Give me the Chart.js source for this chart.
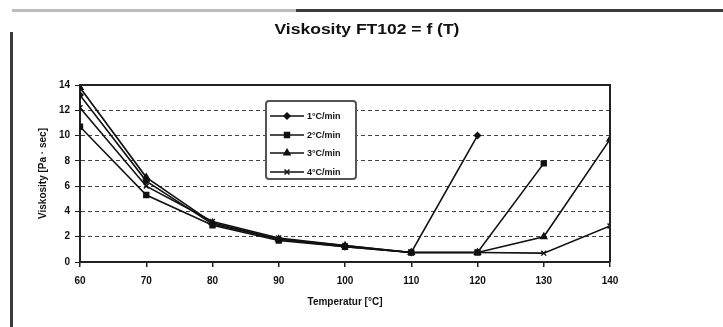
<!DOCTYPE html>
<html>
<head>
<meta charset="utf-8">
<script src="https://cdn.jsdelivr.net/npm/chart.js@4.4.0/dist/chart.umd.min.js"></script>
<style>
    body { margin: 0; background: #fff; }
    #wrap { position: relative; width: 723px; height: 327px; overflow: hidden; font-family: "Liberation Sans", Arial, sans-serif; }
    #chart { position: absolute; left: 0; top: 0; }
    #topline { position: absolute; left: 12px; top: 9px; width: 711px; height: 3px; background: linear-gradient(to right, #bdbdbd 0, #bdbdbd 40%, #3a3a3a 40%, #3a3a3a 100%); }
    #leftline { position: absolute; left: 10px; top: 32px; width: 3px; height: 295px; background: #3a3a3a; }
    #title { position: absolute; left: 0; top: 21px; width: 723px; text-align: center; font-weight: bold; font-size: 14px; color: #111; }
    #title span { display: inline-block; transform: scaleX(1.25); margin-left: 10px; }
    #legend { position: absolute; left: 265px; top: 100px; width: 92px; height: 80px; border: 2px solid #555; border-radius: 4px; background: #fff; padding-top: 5px; box-sizing: border-box; }
    .row { display: flex; align-items: center; height: 18.5px; }
    .row canvas { margin-left: 2px; }
    .row span { font-size: 9px; font-weight: bold; color: #111; margin-left: 2px; }
</style>
</head>
<body>
<div id="wrap">
    <canvas id="chart" width="723" height="327"></canvas>
    <div id="topline"></div>
    <div id="leftline"></div>
    <div id="title"><span>Viskosity FT102 = f (T)</span></div>
    <div id="legend"></div>
</div>
<script>
// Données
const temperatures = [60, 70, 80, 90, 100, 110, 120, 130, 140];
const rate1 = [13.2, 6.4, 3.0, 1.8, 1.2, 0.75, 10.0, null, null];
const rate2 = [10.7, 5.3, 2.9, 1.7, 1.2, 0.75, 0.75, 7.8, null];
const rate3 = [13.8, 6.7, 3.1, 1.8, 1.3, 0.75, 0.75, 2.0, 9.7];
const rate4 = [12.2, 6.0, 3.2, 1.9, 1.3, 0.75, 0.75, 0.7, 2.85];
const seriesLabels = ['1°C/min', '2°C/min', '3°C/min', '4°C/min'];
const yTicks = [0, 2, 4, 6, 8, 10, 12, 14];
const xTicks = temperatures;

const styles = ['rectRot', 'rect', 'triangle', 'crossRot'];
const radii = [3, 3.5, 3.5, 3.5];

function toPoints(values) {
    return values.map((v, i) => ({ x: temperatures[i], y: v }));
}

const datasets = [rate1, rate2, rate3, rate4].map((values, i) => ({
    label: seriesLabels[i],
    data: toPoints(values),
    borderColor: '#111',
    backgroundColor: '#111',
    borderWidth: 1.6,
    pointStyle: styles[i],
    pointRadius: radii[i],
    pointBorderWidth: 1.4,
    spanGaps: false,
    tension: 0
}));

// Cadre noir autour de la zone de tracé
const frame = {
    id: 'frame',
    afterDatasetsDraw(chart) {
        const a = chart.chartArea;
        const ctx = chart.ctx;
        ctx.save();
        ctx.strokeStyle = '#222';
        ctx.lineWidth = 2;
        ctx.beginPath();
        ctx.moveTo(a.left, a.top);
        ctx.lineTo(a.right, a.top);
        ctx.lineTo(a.right, a.bottom);
        ctx.stroke();
        ctx.restore();
    }
};

const tickFont = { family: 'Liberation Sans', size: 10, weight: 'bold' };

const chart = new Chart(document.getElementById('chart'), {
    type: 'line',
    data: { datasets },
    plugins: [frame],
    options: {
        responsive: false,
        animation: false,
        layout: { padding: { left: 0, right: 113, top: 85, bottom: 10 } },
        plugins: { legend: { display: false }, tooltip: { enabled: false } },
        scales: {
            x: {
                type: 'linear',
                min: 60,
                max: 140,
                afterBuildTicks: (s) => { s.ticks = xTicks.map(v => ({ value: v })); },
                afterFit: (s) => { s.height = 55; },
                grid: { drawOnChartArea: false, drawTicks: true, tickLength: 5, color: '#222', lineWidth: 1.5 },
                border: { color: '#222', width: 2 },
                ticks: { font: tickFont, color: '#111', padding: 8, maxRotation: 0 },
                title: { display: true, text: 'Temperatur [°C]', font: tickFont, color: '#111', padding: { bottom: 9 } }
            },
            y: {
                min: 0,
                max: 14,
                afterBuildTicks: (s) => { s.ticks = yTicks.map(v => ({ value: v })); },
                afterFit: (s) => { s.width = 80; },
                grid: { color: '#444', lineWidth: 1, drawTicks: true, tickLength: 5, tickColor: '#222' },
                border: { color: '#222', width: 2, dash: [4, 3] },
                ticks: { font: tickFont, color: '#111', padding: 5 },
                title: { display: true, text: 'Viskosity [Pa · sec]', font: tickFont, color: '#111', padding: { top: 37 } }
            }
        }
    }
});

// Légende HTML construite à partir des séries
const legend = document.getElementById('legend');
datasets.forEach((ds) => {
    const row = document.createElement('div');
    row.className = 'row';
    const c = document.createElement('canvas');
    c.width = 36;
    c.height = 10;
    const ctx = c.getContext('2d');
    ctx.strokeStyle = '#111';
    ctx.fillStyle = '#111';
    ctx.lineWidth = 1.5;
    ctx.beginPath();
    ctx.moveTo(1, 5);
    ctx.lineTo(35, 5);
    ctx.stroke();
    if (Chart.helpers && Chart.helpers.drawPoint) {
        Chart.helpers.drawPoint(ctx, { pointStyle: ds.pointStyle, radius: ds.pointRadius, borderWidth: 1.4, rotation: 0 }, 18, 5);
    }
    const label = document.createElement('span');
    label.textContent = ds.label;
    row.appendChild(c);
    row.appendChild(label);
    legend.appendChild(row);
});
</script>
</body>
</html>
